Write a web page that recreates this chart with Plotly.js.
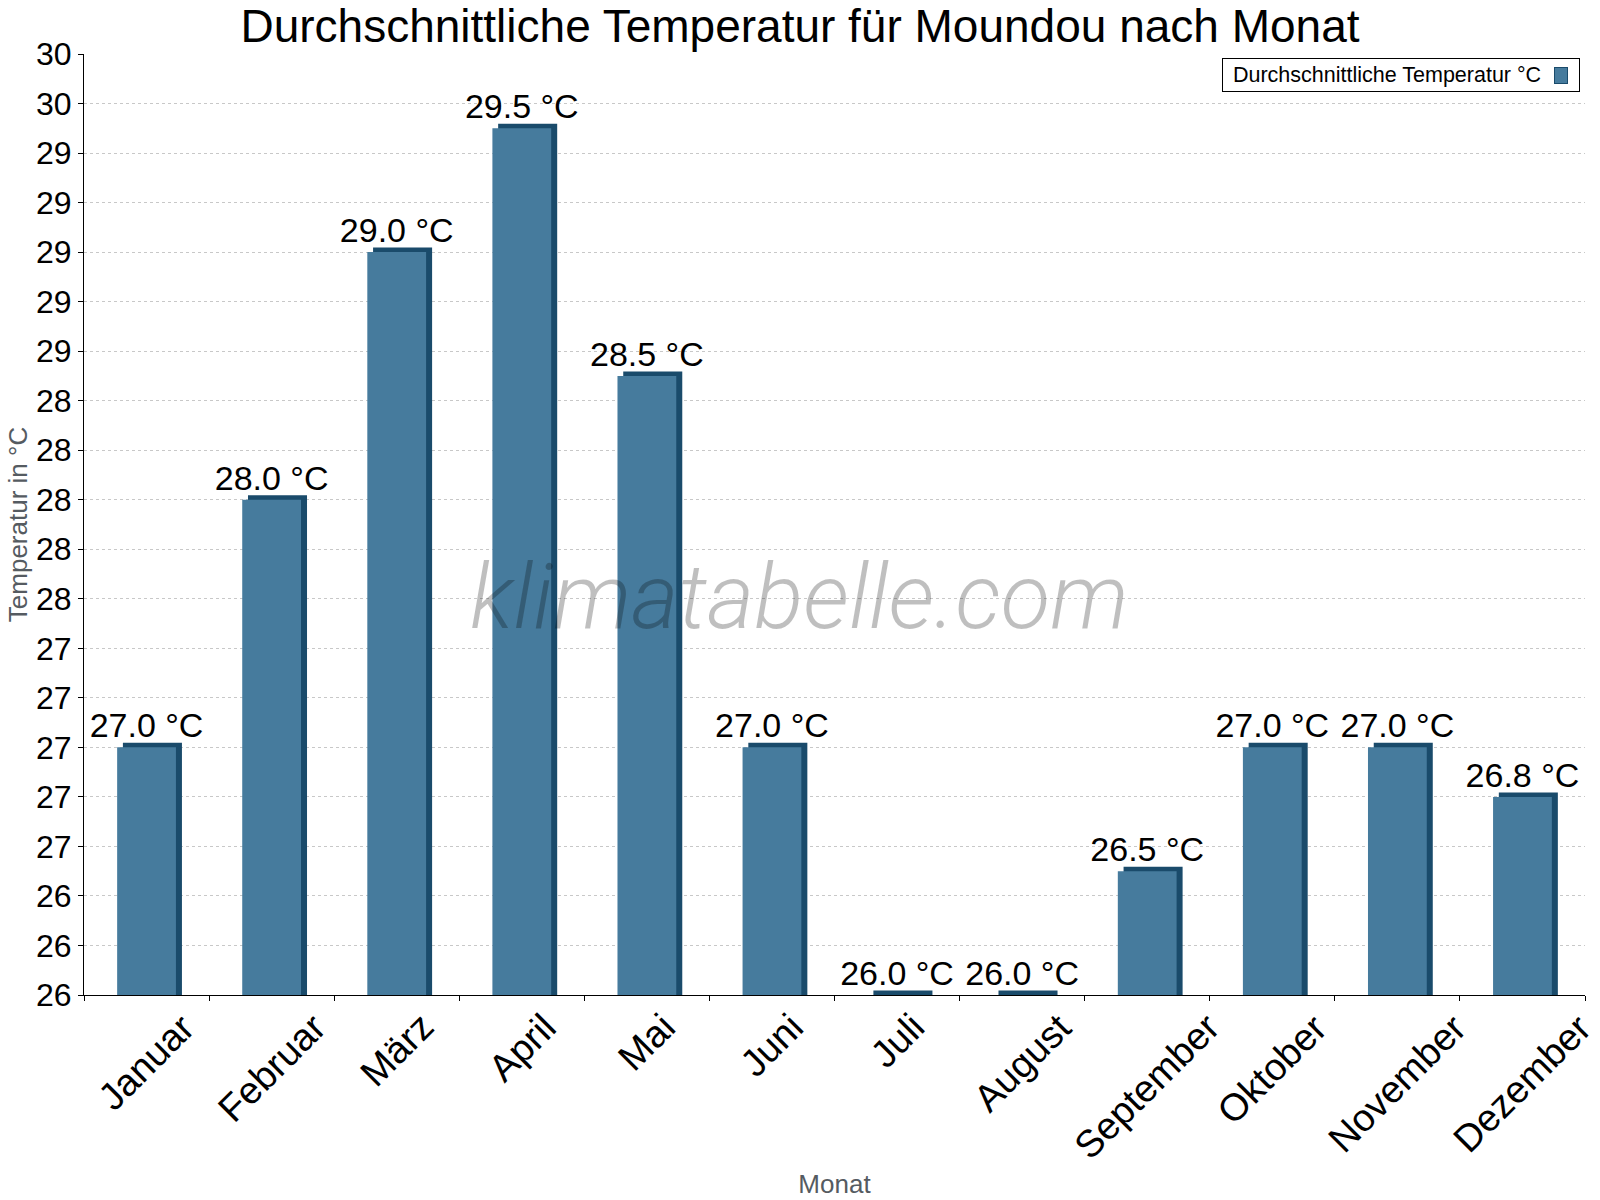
<!DOCTYPE html>
<html>
<head>
<meta charset="utf-8">
<script src="https://cdn.plot.ly/plotly-3.1.2.min.js"></script>
<style>
  html, body { margin: 0; padding: 0; background: #fff; }
  #chart { width: 1600px; height: 1200px; }
</style>
</head>
<body>
<div id="chart"></div>
<script>
const months = ["Januar", "Februar", "März", "April", "Mai", "Juni",
  "Juli", "August", "September", "Oktober", "November", "Dezember"];
const avgTemp = [27.0, 28.0, 29.0, 29.5, 28.5, 27.0, 26.0, 26.0, 26.5, 27.0, 27.0, 26.8];
const yTickVals = [26.0, 26.2, 26.4, 26.6, 26.8, 27.0, 27.2, 27.4, 27.6, 27.8,
  28.0, 28.2, 28.4, 28.6, 28.8, 29.0, 29.2, 29.4, 29.6, 29.8];
const yTickText = ["26", "26", "26", "27", "27", "27", "27", "27", "28", "28",
  "28", "28", "28", "29", "29", "29", "29", "29", "30", "30"];
const seriesName = "Durchschnittliche Temperatur °C";

const barColor = "#467b9d";
const sideColor = "#1a4b6b";
const fontFamily = "'Liberation Sans', Arial, sans-serif";

// dark copy behind the bars gives the top/right "3d" edge
const shadowBars = {
  type: "bar",
  x: months,
  y: avgTemp,
  width: 0.4,
  offset: -0.153,
  marker: { color: sideColor, line: { color: sideColor, width: 9 } },
  hoverinfo: "skip",
  showlegend: false,
};

const tempBars = {
  type: "bar",
  x: months,
  y: avgTemp,
  name: seriesName,
  width: 0.47,
  offset: -0.235,
  marker: { color: barColor, line: { width: 0 } },
  texttemplate: "%{y:.1f} °C",
  textposition: "outside",
  constraintext: "none",
  cliponaxis: false,
  textfont: { size: 34, color: "#000", family: fontFamily },
  showlegend: false,
};

const monthLabels = months.map((m) => ({
  x: m,
  xref: "x",
  y: 0,
  yref: "paper",
  yshift: -8,
  text: m,
  textangle: -45,
  xanchor: "center",
  yanchor: "top",
  showarrow: false,
  font: { size: 38, color: "#000", family: fontFamily },
}));

const watermark = {
  x: 0.477, xref: "paper",
  y: 0.423, yref: "paper",
  text: "klimatabelle.com",
  showarrow: false,
  font: { family: "Roboto, sans-serif", size: 91, color: "rgba(0,0,0,0.25)", style: "italic", weight: 300 },
};

// legend drawn as a framed box with the swatch on the right, like the original
const legendBox = {
  x: 0.9967, xref: "paper", xanchor: "right",
  y: 0.9957, yref: "paper", yanchor: "top",
  text: "\u00a0" + seriesName,
  width: 348,
  align: "left",
  showarrow: false,
  bgcolor: "#fff",
  bordercolor: "#000",
  borderwidth: 1,
  borderpad: 4,
  font: { size: 21.5, color: "#000", family: fontFamily },
};

const legendSwatch = {
  x: 0.984, xref: "paper", xanchor: "center",
  y: 0.9775, yref: "paper", yanchor: "middle",
  text: "\u00a0",
  width: 12,
  height: 15,
  showarrow: false,
  bgcolor: barColor,
  bordercolor: sideColor,
  borderwidth: 1,
  borderpad: 0,
  font: { size: 10 },
};

const layout = {
  width: 1600,
  height: 1200,
  margin: { l: 84, r: 15, t: 54, b: 205 },
  paper_bgcolor: "#fff",
  plot_bgcolor: "#fff",
  font: { family: fontFamily, color: "#000" },
  barmode: "overlay",
  showlegend: false,
  title: {
    text: "Durchschnittliche Temperatur für Moundou nach Monat",
    font: { size: 46, color: "#000" },
    x: 0.5, xanchor: "center",
    y: 1 - 26 / 1200, yanchor: "middle",
  },
  xaxis: {
    type: "category",
    range: [-0.5, 11.5],
    tickson: "boundaries",
    ticks: "outside",
    ticklen: 5,
    tickcolor: "#000",
    showticklabels: false,
    showline: true,
    linecolor: "#000",
    linewidth: 1,
    showgrid: false,
    zeroline: false,
    title: { text: "Monat", font: { size: 26, color: "#555b61" }, standoff: 179 },
  },
  yaxis: {
    range: [26, 29.8],
    tickvals: yTickVals,
    ticktext: yTickText,
    ticks: "outside",
    ticklen: 5,
    tickcolor: "#000",
    tickfont: { size: 32, color: "#000" },
    showline: true,
    linecolor: "#000",
    linewidth: 1,
    showgrid: true,
    gridcolor: "#c8c8c8",
    griddash: "dot",
    zeroline: false,
    title: { text: "Temperatur in °C", font: { size: 26, color: "#555b61" }, standoff: 0 },
  },
  annotations: [watermark, legendBox, legendSwatch, ...monthLabels],
};

Plotly.newPlot("chart", [shadowBars, tempBars], layout, { staticPlot: true });
</script>
</body>
</html>
